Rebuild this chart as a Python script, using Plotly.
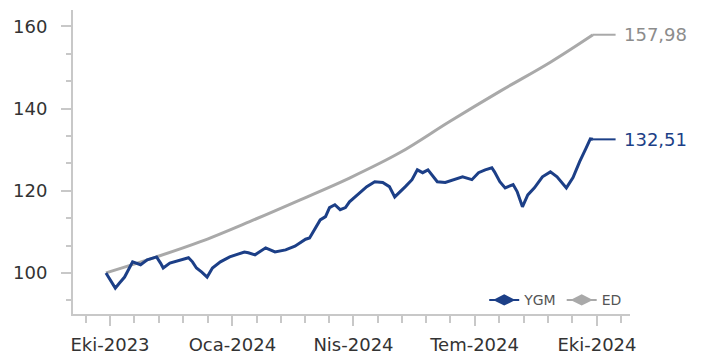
import pandas as pd
import plotly.graph_objects as go

start = pd.Timestamp('2023-09-28')

ygm_days = [0, 3, 7, 10, 14, 20, 26, 31, 38, 41, 43, 48, 56, 62, 65, 68, 72, 76, 80, 86,
            93, 101, 104, 107, 112, 120, 127, 135, 142, 150, 153, 161, 165, 168, 172, 176,
            180, 183, 189, 196, 202, 208, 213, 217, 225, 230, 234, 238, 242, 246, 249, 255,
            262, 268, 275, 280, 285, 290, 292, 296, 300, 306, 309, 313, 317, 322, 328, 334,
            339, 343, 346, 351, 356, 361, 364, 366]
ygm_values = [100.0, 98.3, 96.3, 97.5, 99.0, 102.7, 102.0, 103.2, 103.9, 102.4, 101.2, 102.4,
              103.2, 103.7, 102.7, 101.2, 100.2, 99.0, 101.2, 102.7, 103.9, 104.9, 105.1, 104.9,
              104.4, 106.1, 105.1, 105.6, 106.5, 108.2, 108.5, 112.9, 113.7, 115.9, 116.6, 115.4,
              115.9, 117.3, 119.0, 121.0, 122.2, 122.0, 121.0, 118.5, 121.0, 122.7, 125.1, 124.4,
              125.1, 123.4, 122.2, 122.0, 122.7, 123.4, 122.7, 124.4, 125.1, 125.6, 124.6, 122.2,
              120.7, 121.5, 119.8, 116.1, 119.0, 120.7, 123.4, 124.6, 123.4, 122.0, 120.7, 123.2,
              127.1, 130.5, 132.6, 132.51]

ed_days = [0, 38, 71, 108, 146, 183, 221, 258, 296, 334, 366]
ed_values = [100.0, 103.9, 107.6, 112.5, 117.8, 123.1, 129.3, 136.8, 144.2, 151.3, 157.98]

tick_dates = ['2023-10-01', '2024-01-01', '2024-04-01', '2024-07-01', '2024-10-01']
tick_labels = ['Eki-2023', 'Oca-2024', 'Nis-2024', 'Tem-2024', 'Eki-2024']

ygm_x = [start + pd.Timedelta(days=d) for d in ygm_days]
ed_x = [start + pd.Timedelta(days=d) for d in ed_days]

navy = '#1c3f87'
grey = '#a9a9a9'
axis_col = '#c8c8c8'
font = 'DejaVu Sans'

# minor ticks: 5 intervals per quarter
quarters = pd.to_datetime(['2023-07-01'] + tick_dates + ['2025-01-01'])
minor_vals = []
for a, b in zip(quarters[:-1], quarters[1:]):
    for k in range(1, 5):
        minor_vals.append(a + (b - a) * k / 5)

fig = go.Figure()
fig.add_trace(go.Scatter(x=ed_x, y=ed_values, mode='lines', line=dict(color=grey, width=3, shape='spline'),
                         showlegend=False))
fig.add_trace(go.Scatter(x=ygm_x, y=ygm_values, mode='lines', line=dict(color=navy, width=3),
                         showlegend=False))
# legend entries
fig.add_trace(go.Scatter(x=[None], y=[None], mode='lines+markers', name='YGM',
                         line=dict(color=navy, width=2), marker=dict(symbol='diamond-wide', size=16, color=navy)))
fig.add_trace(go.Scatter(x=[None], y=[None], mode='lines+markers', name='ED',
                         line=dict(color=grey, width=2), marker=dict(symbol='diamond-wide', size=16, color=grey)))

# end labels with short leader lines
for xs, ys, col, lc in [(ed_x, ed_values, '#8c8c8c', grey), (ygm_x, ygm_values, navy, navy)]:
    x_end = xs[-1]
    x_lab = x_end + pd.Timedelta(days=17)
    fig.add_shape(type='line', xref='x', yref='y', x0=x_end, x1=x_lab, y0=ys[-1], y1=ys[-1],
                  line=dict(color=lc, width=2))
    fig.add_annotation(x=x_lab, y=ys[-1], text=f'{ys[-1]:.2f}'.replace('.', ','), showarrow=False,
                       xanchor='left', xshift=6, font=dict(family=font, size=18, color=col))

# page body has an 8px margin, so the figure is sized to fit the window inside it
fig.update_layout(
    width=694, height=347,
    margin=dict(l=65, r=72, t=2, b=41),
    paper_bgcolor='white', plot_bgcolor='white',
    font=dict(family=font, size=18, color='#333333'),
    legend=dict(orientation='h', x=0.995, y=0.045, xanchor='right', yanchor='middle',
                font=dict(size=14, color='#555555'), bgcolor='rgba(0,0,0,0)',
                itemwidth=30, tracegroupgap=0),
)
fig.update_xaxes(
    automargin=False,
    range=['2023-09-03 05:00', '2024-10-25 20:00'],
    tickmode='array', tickvals=tick_dates, ticktext=tick_labels,
    showgrid=False, zeroline=False,
    showline=True, linecolor=axis_col, linewidth=2,
    ticks='outside', ticklen=10, tickcolor=axis_col, tickwidth=1.5,
    ticklabelstandoff=3,
    minor=dict(tickmode='array', tickvals=minor_vals, ticks='outside', ticklen=7,
               tickcolor=axis_col, tickwidth=1.5, showgrid=False),
)
fig.update_yaxes(
    automargin=False,
    range=[90, 164],
    tickvals=[100, 120, 140, 160],
    showgrid=False, zeroline=False,
    showline=True, linecolor=axis_col, linewidth=2,
    ticks='outside', ticklen=10, tickcolor=axis_col, tickwidth=1.5,
    ticklabelstandoff=10,
    minor=dict(tick0=100, dtick=20 / 3, ticks='outside', ticklen=5,
               tickcolor=axis_col, tickwidth=1.5, showgrid=False),
)

fig.write_html('out.html')
